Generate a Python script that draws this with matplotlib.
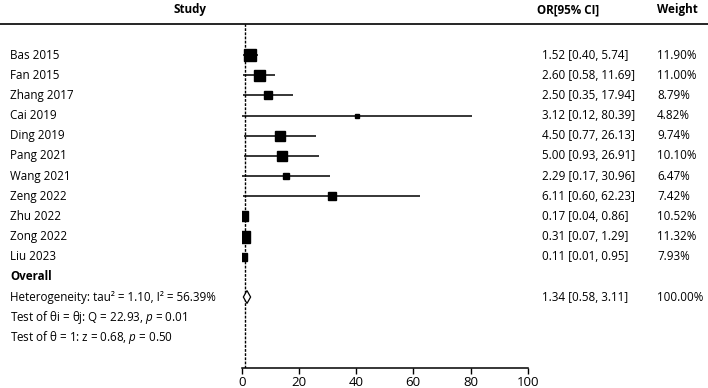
import matplotlib.pyplot as plt
from matplotlib.lines import Line2D
from matplotlib.transforms import blended_transform_factory

plt.rcParams['font.family'] = ['Open Sans', 'DejaVu Sans']
plt.rcParams['mathtext.fontset'] = 'custom'
plt.rcParams['mathtext.rm'] = 'Open Sans'
plt.rcParams['mathtext.it'] = 'Open Sans:italic'

# Data
studies = ['Bas 2015', 'Fan 2015', 'Zhang 2017', 'Cai 2019', 'Ding 2019', 'Pang 2021',
           'Wang 2021', 'Zeng 2022', 'Zhu 2022', 'Zong 2022', 'Liu 2023']
odds = [1.52, 2.60, 2.50, 3.12, 4.50, 5.00, 2.29, 6.11, 0.17, 0.31, 0.11]
lower = [0.40, 0.58, 0.35, 0.12, 0.77, 0.93, 0.17, 0.60, 0.04, 0.07, 0.01]
upper = [5.74, 11.69, 17.94, 80.39, 26.13, 26.91, 30.96, 62.23, 0.86, 1.29, 0.95]
weights = [11.90, 11.00, 8.79, 4.82, 9.74, 10.10, 6.47, 7.42, 10.52, 11.32, 7.93]
overall = (1.34, 0.58, 3.11)
stats_lines = ['Heterogeneity: tau\u00b2 = 1.10, I\u00b2 = 56.39%',
               'Test of \u03b8i = \u03b8j: Q = 22.93, $\\it{p}$ = 0.01',
               'Test of \u03b8 = 1: z = 0.68, $\\it{p}$ = 0.50']
xticks = [0, 20, 40, 60, 80, 100]

W, H = 708, 388
fig = plt.figure(figsize=(W / 100, H / 100), dpi=100)
ax = fig.add_axes([241.7 / W, 1 - 368 / H, 286 / W, (368 - 24) / H])
ax.set_xlim(0, 100)
ax.set_ylim(15.52, -1.54)

fs = 8.4
n = len(studies)
for i in range(n):
    mid = (lower[i] + upper[i]) / 2
    ax.plot([lower[i], upper[i]], [i, i], color='black', lw=1.1, solid_capstyle='butt')
    ax.plot(mid, i, marker='s', color='black', markersize=weights[i] * 0.72)

# overall diamond
ov, lo, hi = overall
yd = n + 1
mid = (lo + hi) / 2
ax.fill([lo, mid, hi, mid, lo], [yd, yd - 0.32, yd, yd + 0.32, yd],
        facecolor='white', edgecolor='black', lw=0.9, zorder=3)

ax.axvline(1, color='black', ls=(0, (2, 1)), lw=1.0, zorder=1)

for s in ['top', 'right', 'left']:
    ax.spines[s].set_visible(False)
ax.spines['bottom'].set_linewidth(1.1)
ax.set_yticks([])
ax.set_xticks(xticks)
ax.tick_params(axis='x', labelsize=9.5, length=4, width=1.0, pad=2)

# header
fig.add_artist(Line2D([0, 1], [1 - 24 / H] * 2, color='black', lw=1.2))
hy = 1 - 10 / H
fig.text(190 / W, hy, 'Study', ha='center', va='center', fontsize=fs, fontweight='bold')
fig.text(537 / W, hy, 'OR[95% CI]', ha='left', va='center', fontsize=fs, fontweight='bold')
fig.text(657 / W, hy, 'Weight', ha='left', va='center', fontsize=fs, fontweight='bold')

tr = blended_transform_factory(fig.transFigure, ax.transData)
x0 = 10 / W
for i in range(n):
    ax.text(x0, i, studies[i], transform=tr, ha='left', va='center', fontsize=fs)
    ax.text(542 / W, i, f'{odds[i]:.2f} [{lower[i]:.2f}, {upper[i]:.2f}]',
            transform=tr, ha='left', va='center', fontsize=fs)
    ax.text(657 / W, i, f'{weights[i]:.2f}%', transform=tr, ha='left', va='center', fontsize=fs)

ax.text(x0, n, 'Overall', transform=tr, ha='left', va='center', fontsize=fs, fontweight='bold')
ax.text(542 / W, yd, f'{ov:.2f} [{lo:.2f}, {hi:.2f}]', transform=tr,
        ha='left', va='center', fontsize=fs)
ax.text(657 / W, yd, '100.00%', transform=tr, ha='left', va='center', fontsize=fs)
for k, line in enumerate(stats_lines):
    ax.text(x0, yd + k, line, transform=tr, ha='left', va='center', fontsize=fs)

fig.savefig('out.png', dpi=100)
